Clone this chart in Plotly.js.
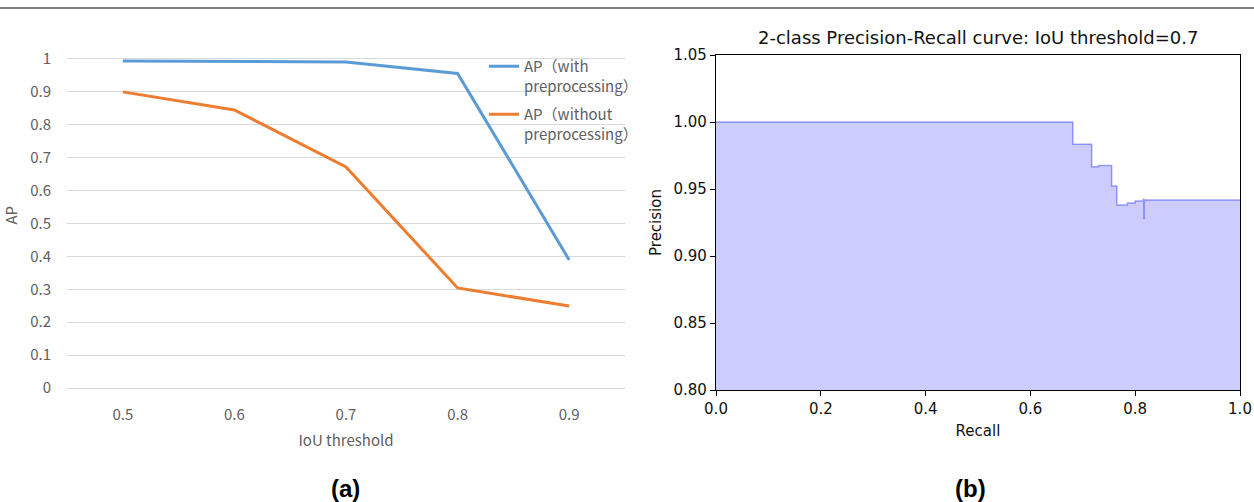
<!DOCTYPE html>
<html>
<head>
<meta charset="utf-8">
<script src="https://cdn.plot.ly/plotly-3.0.1.min.js"></script>
<style>html,body{margin:0;padding:0;background:#fff;}#chart{width:1254px;height:502px;}</style>
</head>
<body>
<div id="chart"></div>
<script>
// ---- Data (a) ----
const iouThresholds = ['0.5', '0.6', '0.7', '0.8', '0.9'];
const apWithPre = [0.994, 0.993, 0.991, 0.956, 0.389];
const apWithoutPre = [0.900, 0.845, 0.672, 0.304, 0.249];
const seriesNames = ['AP（with<br>preprocessing）', 'AP（without<br>preprocessing）'];

// ---- Data (b) ----
const recall = [0, 0.681, 0.717, 0.730, 0.755, 0.765, 0.785, 0.800, 0.8155, 0.8165, 0.8175, 1.0];
const precision = [1.0, 0.9834, 0.9666, 0.9676, 0.9522, 0.938, 0.9395, 0.941, 0.9424, 0.928, 0.9418, 0.9418];

const W = 1254, H = 502;
const px = x => x / W;
const py = y => (H - y) / H;

const fA = 'Noto Sans CJK SC, Noto Sans, sans-serif';
const gA = '#606060';
const fB = 'DejaVu Sans, sans-serif';

const traces = [
  {x: iouThresholds, y: apWithPre, type: 'scatter', mode: 'lines', name: seriesNames[0],
   line: {color: '#5B9BD5', width: 3}, xaxis: 'x', yaxis: 'y', legendgroup: 'g1'},
  {x: iouThresholds, y: apWithoutPre, type: 'scatter', mode: 'lines', name: seriesNames[1],
   line: {color: '#ED7D31', width: 3}, xaxis: 'x', yaxis: 'y', legendgroup: 'g2'},
  {x: recall, y: precision, type: 'scatter', mode: 'lines', line: {shape: 'hv', color: 'rgba(0,0,255,0.35)', width: 1.5},
   fill: 'tozeroy', fillcolor: 'rgba(0,0,255,0.2)', xaxis: 'x2', yaxis: 'y2', showlegend: false}
];

const layout = {
  width: W, height: H,
  margin: {l: 0, r: 0, t: 0, b: 0},
  paper_bgcolor: '#fff', plot_bgcolor: 'rgba(0,0,0,0)',
  showlegend: true,
  legend: {x: px(484), y: py(50), xanchor: 'left', yanchor: 'top', bgcolor: 'rgba(0,0,0,0)',
           font: {family: fA, size: 15, color: gA}, valign: 'top', traceorder: 'grouped', tracegroupgap: 6},
  xaxis: {domain: [px(67), px(625)], type: 'category', range: [-0.5, 4.5],
          showgrid: false, zeroline: false, showline: false,
          ticks: 'outside', ticklen: 13, tickcolor: 'rgba(0,0,0,0)',
          tickfont: {family: fA, size: 15, color: gA},
          title: {text: 'IoU threshold', font: {family: fA, size: 15, color: gA}, standoff: 12}},
  yaxis: {domain: [py(388), py(42.5)], range: [0, 1.05],
          dtick: 0.1, tick0: 0, showgrid: true, gridcolor: '#d9d9d9', gridwidth: 1,
          zeroline: true, zerolinecolor: '#d9d9d9', zerolinewidth: 1, showline: false,
          ticks: 'outside', ticklen: 12, tickcolor: 'rgba(0,0,0,0)',
          tickfont: {family: fA, size: 15, color: gA},
          title: {text: 'AP', font: {family: fA, size: 15, color: gA}, standoff: 10}},
  xaxis2: {domain: [px(716), px(1240)], range: [0, 1], anchor: 'y2', dtick: 0.2, tickformat: '.1f',
           showgrid: false, zeroline: false, showline: true, mirror: true, linecolor: '#000', linewidth: 1.2,
           ticks: 'outside', ticklen: 5, tickcolor: '#000',
           tickfont: {family: fB, size: 15, color: '#111'},
           title: {text: 'Recall', font: {family: fB, size: 15, color: '#111'}, standoff: 8}},
  yaxis2: {domain: [py(390), py(55)], range: [0.80, 1.05], anchor: 'x2', dtick: 0.05, tickformat: '.2f',
           showgrid: false, zeroline: false, showline: true, mirror: true, linecolor: '#000', linewidth: 1.2,
           ticks: 'outside', ticklen: 5, tickcolor: '#000',
           tickfont: {family: fB, size: 15, color: '#111'},
           title: {text: 'Precision', font: {family: fB, size: 15, color: '#111'}, standoff: 8}},
  shapes: [
    {type: 'line', xref: 'paper', yref: 'paper', x0: 0, x1: 1, y0: py(8), y1: py(8), line: {color: '#555', width: 1.5}}
  ],
  annotations: [
    {text: '2-class Precision-Recall curve: IoU threshold=0.7', xref: 'paper', yref: 'paper',
     x: px(978), y: py(37), showarrow: false, xanchor: 'center', yanchor: 'middle',
     font: {family: fB, size: 18, color: '#111'}},
    {text: '<b>(a)</b>', xref: 'paper', yref: 'paper', x: px(345), y: py(488), showarrow: false,
     xanchor: 'center', yanchor: 'middle', font: {family: 'Liberation Sans, Arial, sans-serif', size: 24, color: '#000'}},
    {text: '<b>(b)</b>', xref: 'paper', yref: 'paper', x: px(970), y: py(488), showarrow: false,
     xanchor: 'center', yanchor: 'middle', font: {family: 'Liberation Sans, Arial, sans-serif', size: 24, color: '#000'}}
  ]
};

Plotly.newPlot('chart', traces, layout, {displayModeBar: false, staticPlot: true});
</script>
</body>
</html>
